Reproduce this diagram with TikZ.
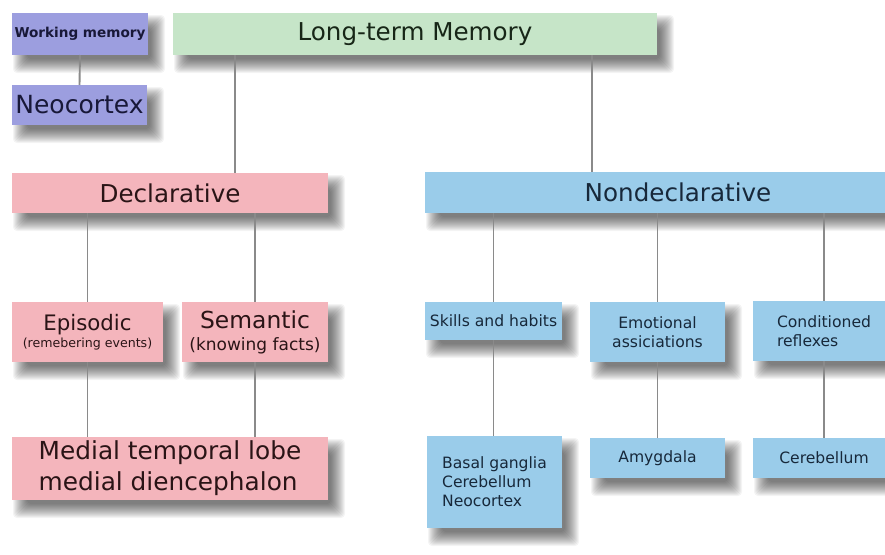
\documentclass[tikz,border=0pt]{standalone}
\usepackage{fontspec}
\setmainfont{DejaVu Sans}
\usetikzlibrary{calc,backgrounds}
\definecolor{boxpurple}{HTML}{9C9EDF}
\definecolor{boxgreen}{HTML}{C6E5C8}
\definecolor{boxpink}{HTML}{F4B5BC}
\definecolor{boxblue}{HTML}{9ACCEA}
\definecolor{txtpurple}{HTML}{181838}
\definecolor{txtgreen}{HTML}{172617}
\definecolor{txtpink}{HTML}{2A1416}
\definecolor{txtblue}{HTML}{17283A}
\definecolor{linkgray}{HTML}{8A8A8A}
\tikzset{
  box/.style={inner sep=0pt, outer sep=0pt},
  purplebox/.style={box, fill=boxpurple, text=txtpurple},
  greenbox/.style={box, fill=boxgreen, text=txtgreen},
  pinkbox/.style={box, fill=boxpink, text=txtpink},
  bluebox/.style={box, fill=boxblue, text=txtblue},
  sz/.style 2 args={minimum width=#1pt, minimum height=#2pt},
  link/.style={draw=linkgray, line width=1.9pt},
  shadowlayer/.style={fill=black, opacity=0.045, rounded corners=4pt},
  big/.style={font=\fontsize{24.6}{30}\selectfont},
  small/.style={font=\fontsize{15.6}{19}\selectfont},
}
\begin{document}
\begin{tikzpicture}[x=1pt,y=-1pt]
\useasboundingbox (0,0) rectangle (885,554);

\node[purplebox, sz={136}{42}, font=\bfseries\fontsize{13.6}{16}\selectfont] (wm) at (80,34) {Working memory};
\node[purplebox, sz={135}{40}, font=\fontsize{25}{30}\selectfont] (neo) at (79.5,105) {Neocortex};
\node[greenbox, sz={484}{42}, big] (ltm) at (415,34) {Long-term Memory};

\node[pinkbox, sz={316}{40}, big] (decl) at (170,193) {Declarative};
\node[bluebox, sz={506}{41}, big] (nd) at (678,192.5) {Nondeclarative};

\node[pinkbox, sz={151}{60}, align=center, font=\fontsize{12.6}{16.5}\selectfont] (ep) at (87.5,332)
  {{\fontsize{21.3}{22}\selectfont Episodic}\\(remebering events)};
\node[pinkbox, sz={146}{60}, align=center, font=\fontsize{17}{22}\selectfont] (sem) at (255,332)
  {{\fontsize{23.4}{24}\selectfont Semantic}\\(knowing facts)};
\node[pinkbox, sz={316}{63}, align=left, font=\fontsize{24.8}{31}\selectfont] (med) at (170,468.5)
  {Medial temporal lobe\\medial diencephalon};

\node[bluebox, sz={137}{38}, small] (sk) at (493.5,321) {Skills and habits};
\node[bluebox, sz={135}{60}, small, align=center] (em) at (657.5,332) {Emotional\\assiciations};
\node[bluebox, sz={142}{60}, small, align=left] (co) at (824,331) {Conditioned\\reflexes};

\node[bluebox, sz={135}{92}, small, align=left] (bg) at (494.5,482) {Basal ganglia\\Cerebellum\\Neocortex};
\node[bluebox, sz={135}{40}, small] (am) at (657.5,458) {Amygdala};
\node[bluebox, sz={142}{40}, small] (ce) at (824,458) {Cerebellum};

\begin{pgfonlayer}{background}
\fill[white] (0,0) rectangle (885,554);
\foreach \n in {wm,neo,ltm,decl,nd,ep,sem,med,sk,em,co,bg,am,ce}{
  \foreach \i in {0,...,14}{
    \fill[shadowlayer] ($(\n.north west)+(15-\i,16-\i)$) rectangle ($(\n.south east)+(3+\i,4+\i)$);
  }
}
\end{pgfonlayer}

\draw[link] (wm.south) -- (neo.north);
\draw[link] (235,0 |- ltm.south) -- (235,0 |- decl.north);
\draw[link] (592,0 |- ltm.south) -- (592,0 |- nd.north);
\draw[link] (decl.south -| ep.north) -- (ep.north);
\draw[link] (decl.south -| sem.north) -- (sem.north);
\draw[link] (ep.south) -- (ep.south |- med.north);
\draw[link] (sem.south) -- (sem.south |- med.north);
\draw[link] (nd.south -| sk.north) -- (sk.north);
\draw[link] (nd.south -| em.north) -- (em.north);
\draw[link] (nd.south -| co.north) -- (co.north);
\draw[link] (sk.south) -- (sk.south |- bg.north);
\draw[link] (em.south) -- (am.north);
\draw[link] (co.south) -- (ce.north);
\end{tikzpicture}
\end{document}
